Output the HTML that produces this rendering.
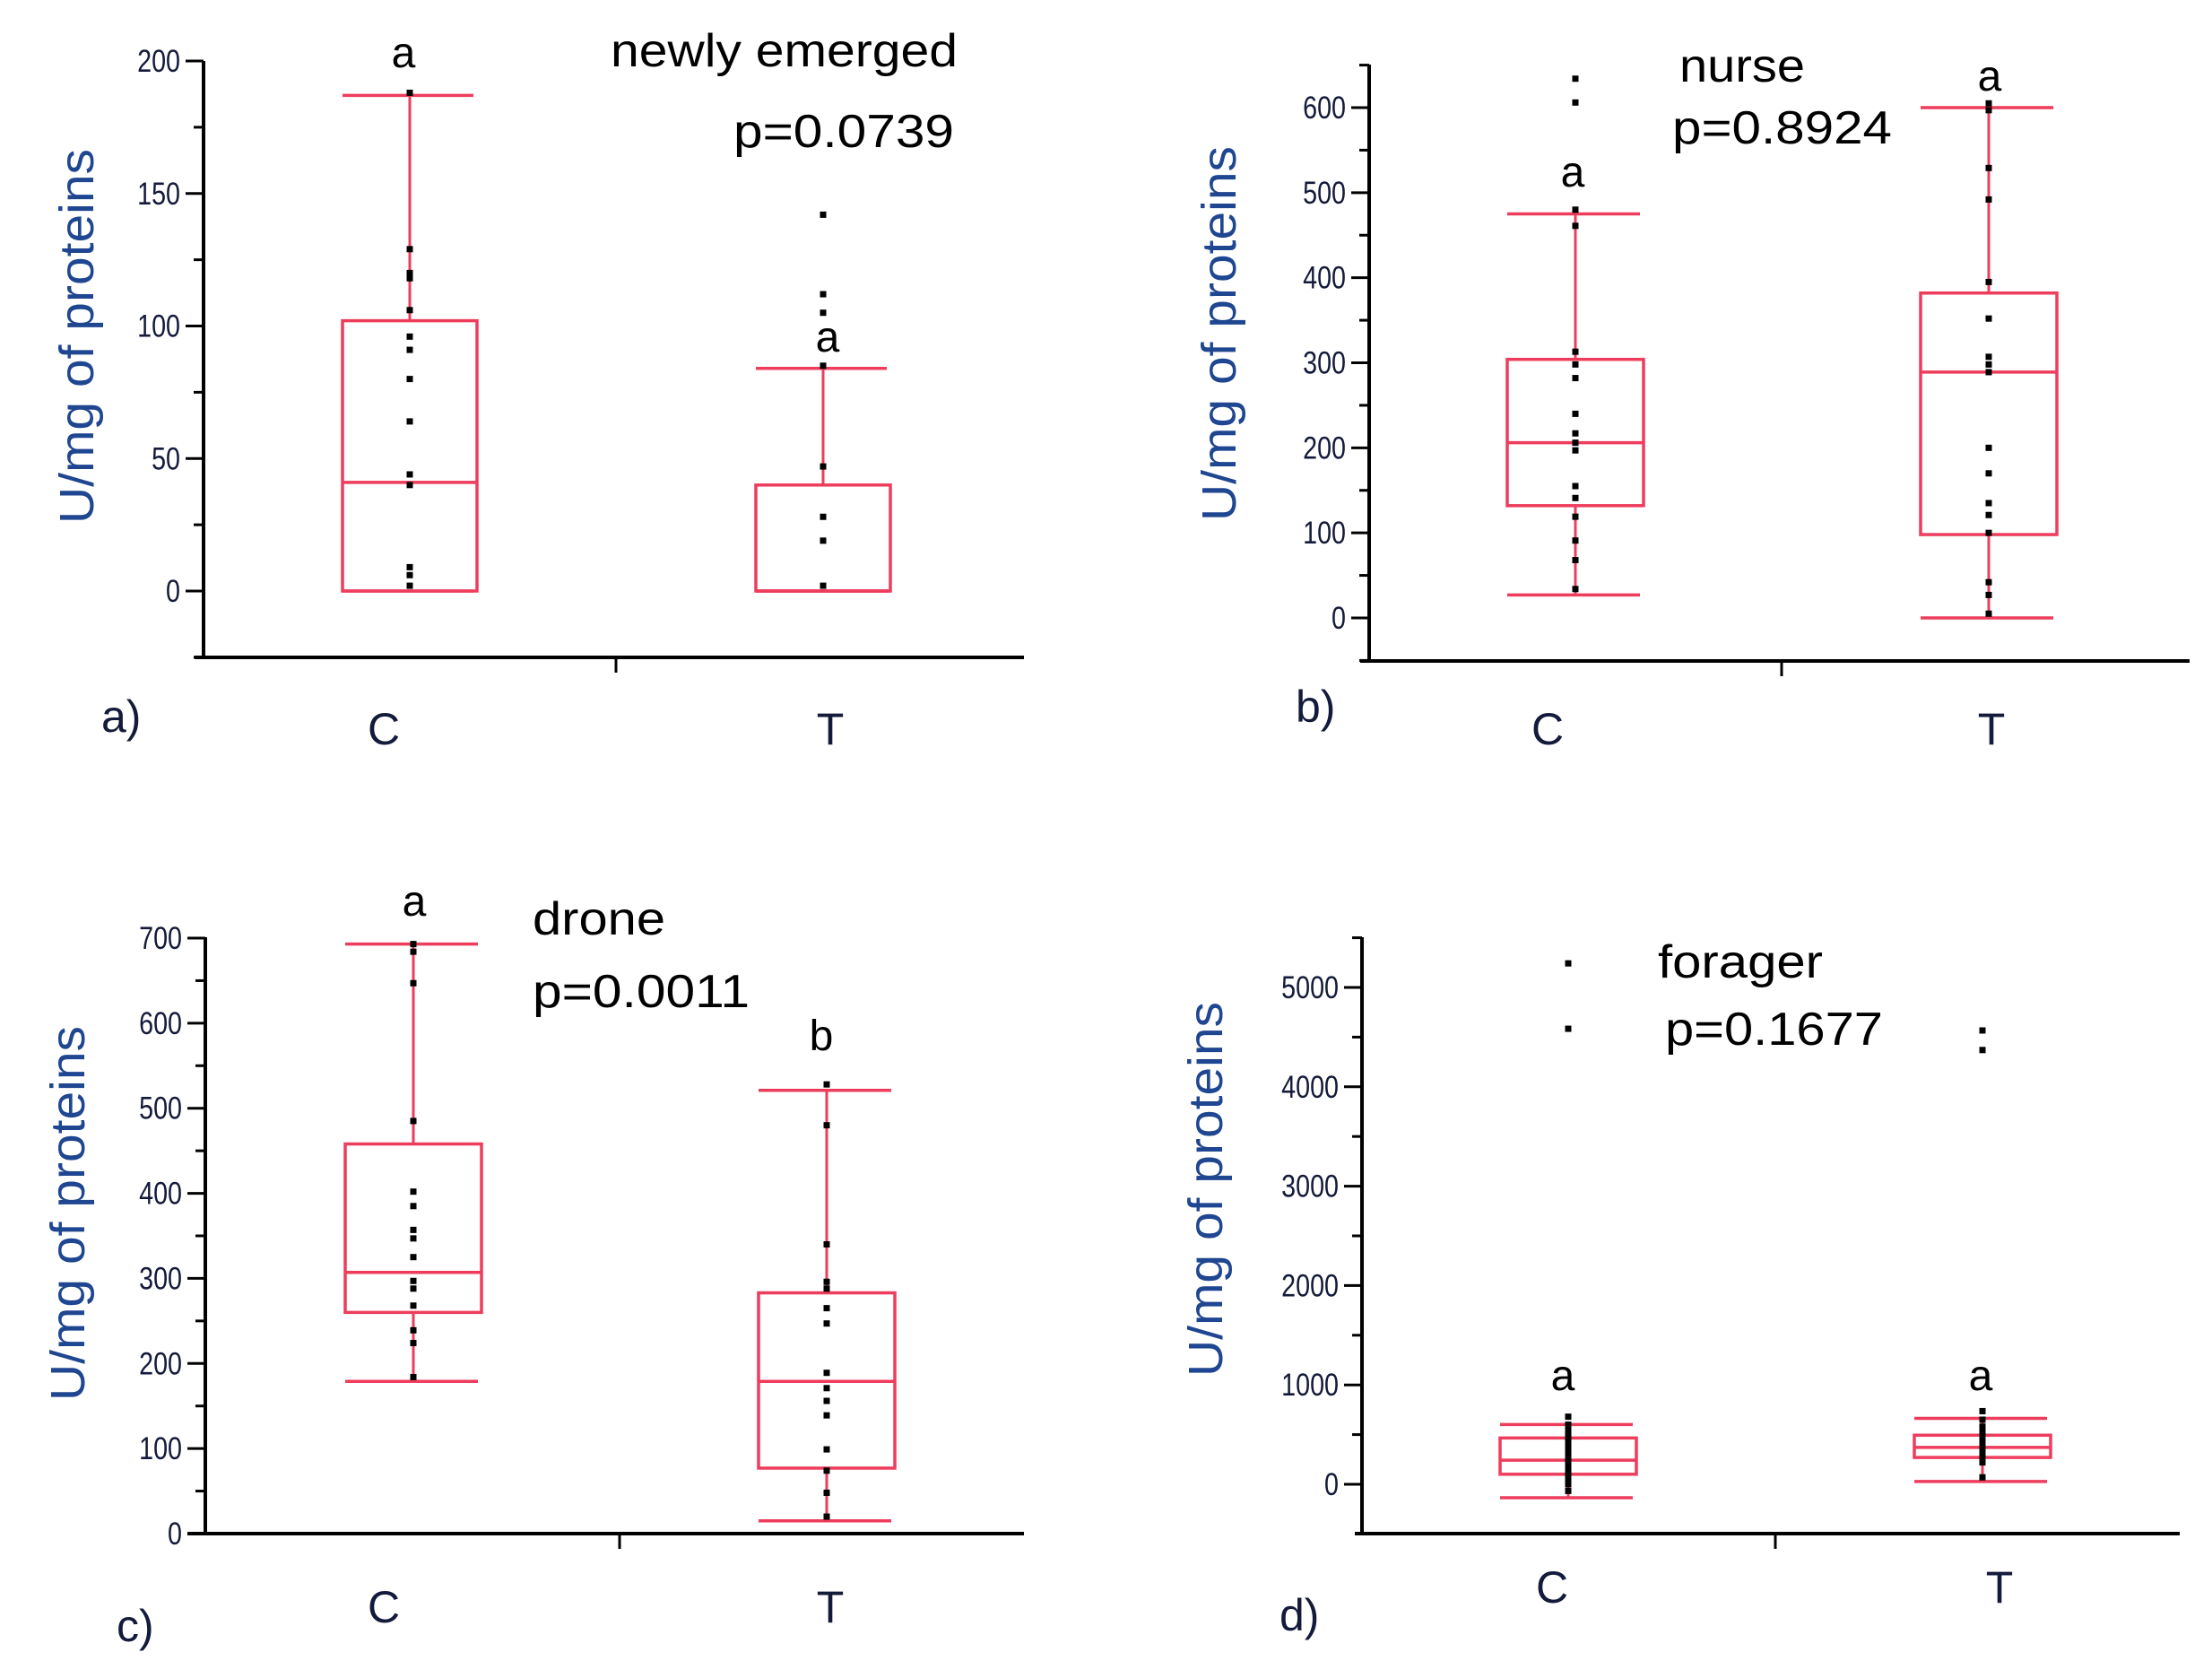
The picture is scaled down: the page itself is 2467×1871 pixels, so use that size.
<!DOCTYPE html>
<html><head><meta charset="utf-8"><style>
html,body{margin:0;padding:0;background:#fff;}
svg{display:block;font-family:"Liberation Sans",Arial,sans-serif;}
</style></head><body>
<svg id="chart" width="2467" height="1871" viewBox="0 0 2467 1871" xmlns="http://www.w3.org/2000/svg"></svg>
<script>
// ---- data ----
const groupNames = ["C", "T"];
// panel a: newly emerged
const aStats = [[0, 0, 41, 102, 187], [0, 0, 0, 40, 84]]; // lower, q1, median, q3, upper
const aPointsC = [188, 129, 120, 118, 106, 96, 91, 80, 64, 44, 40, 9, 6, 2];
const aPointsT = [142, 112, 105, 85, 47, 28, 19, 2];
const aTicks = [0, 50, 100, 150, 200];
// panel b: nurse
const bStats = [[27, 132, 206, 304, 475], [0, 98, 289, 382, 600]];
const bPointsC = [634, 606, 480, 461, 313, 298, 282, 240, 217, 206, 197, 155, 141, 119, 91, 68, 34];
const bPointsT = [605, 597, 529, 492, 395, 352, 307, 298, 289, 200, 170, 135, 121, 100, 42, 27, 5];
const bTicks = [0, 100, 200, 300, 400, 500, 600];
// panel c: drone
const cStats = [[179, 260, 307, 458, 693], [15, 77, 179, 283, 521]];
const cPointsC = [693, 684, 647, 485, 402, 385, 357, 347, 325, 297, 288, 268, 239, 224, 184];
const cPointsT = [528, 480, 340, 296, 288, 265, 247, 189, 171, 156, 139, 99, 74, 48, 20];
const cTicks = [0, 100, 200, 300, 400, 500, 600, 700];
// panel d: forager
const dStats = [[-135, 101, 242, 466, 601], [28, 270, 371, 494, 663]];
const dPointsC = [5242, 4584, 680, 600, 540, 480, 420, 360, 300, 240, 180, 120, 60, 0, -67];
const dPointsT = [4567, 4370, 736, 650, 580, 520, 460, 400, 340, 280, 220, 70];
const dTicks = [0, 1000, 2000, 3000, 4000, 5000];

const NS = "http://www.w3.org/2000/svg";
const svg = document.getElementById("chart");
const RED = "#ee3d5c", TXT = "#141a3a", YL = "#1f4690";
function mk(tag, attrs, parent) {
  const e = document.createElementNS(NS, tag);
  for (const k in attrs) e.setAttribute(k, attrs[k]);
  (parent || svg).appendChild(e);
  return e;
}
function txt(s, x, y, size, anchor, fill, parent, extra) {
  const t = mk("text", Object.assign({x: x, y: y, "font-size": size, "text-anchor": anchor || "start", fill: fill || TXT}, extra || {}), parent);
  t.textContent = s;
  return t;
}

function panel(cfg) {
  const g = mk("g", {});
  
  
  const y = v => cfg.y0 + (v - cfg.v0) * (cfg.y1 - cfg.y0) / (cfg.v1 - cfg.v0);
  const ax = mk("g", {}, g);
  
  
  mk("line", {x1: cfg.ax, y1: cfg.axTop, x2: cfg.ax, y2: cfg.axBot, stroke: "#000", "stroke-width": 4}, ax);
  const xa = mk("g", {}, g);
  
  
  mk("line", {x1: cfg.xL, y1: cfg.axBot, x2: cfg.xR, y2: cfg.axBot, stroke: "#000", "stroke-width": 4}, xa);
  mk("line", {x1: cfg.midX, y1: cfg.axBot, x2: cfg.midX, y2: cfg.axBot + 17, stroke: "#000", "stroke-width": 3}, xa);
  const step = cfg.ticks[1] - cfg.ticks[0];
  cfg.ticks.forEach(v => {
    mk("line", {x1: cfg.ax - 20, y1: y(v), x2: cfg.ax, y2: y(v), stroke: "#000", "stroke-width": 3}, ax);
    const lx = cfg.ax - 26;
    const t = txt(String(v), 0, 0, 35, "end", TXT, ax, {transform: "translate(" + lx + "," + (y(v) + 12) + ") scale(0.82,1)"});
    
    
    const m = v + step / 2;
    if (y(m) > cfg.axTop && y(m) < cfg.axBot) mk("line", {x1: cfg.ax - 11, y1: y(m), x2: cfg.ax, y2: y(m), stroke: "#000", "stroke-width": 3}, ax);
    const mb = v - step / 2;
    if (v === cfg.ticks[0] && y(mb) > cfg.axTop && y(mb) < cfg.axBot) mk("line", {x1: cfg.ax - 11, y1: y(mb), x2: cfg.ax, y2: y(mb), stroke: "#000", "stroke-width": 3}, ax);
  });
  [0, 1].forEach(i => {
    const s = cfg.stats[i], cx = cfg.cx[i], hw = cfg.hw;
    const bg = mk("g", {}, g);
    
    
    mk("line", {x1: cx, y1: y(s[0]), x2: cx, y2: y(s[4]), stroke: RED, "stroke-width": 3}, bg);
    mk("rect", {x: cx - hw, y: y(s[3]), width: 2 * hw, height: y(s[1]) - y(s[3]), fill: "#fff", stroke: RED, "stroke-width": 3.5}, bg);
    mk("line", {x1: cx - hw, y1: y(s[2]), x2: cx + hw, y2: y(s[2]), stroke: RED, "stroke-width": 3.5}, bg);
    mk("line", {x1: cx - hw, y1: y(s[4]), x2: cx + hw - 4, y2: y(s[4]), stroke: RED, "stroke-width": 3.5}, bg);
    mk("line", {x1: cx - hw, y1: y(s[0]), x2: cx + hw - 4, y2: y(s[0]), stroke: RED, "stroke-width": 3.5}, bg);
    cfg.points[i].forEach(v => {
      const p = mk("rect", {x: cx - 3.5, y: y(v) - 3.5, width: 7, height: 7, fill: "#000"}, bg);
      
      
    });
    const cl = txt(groupNames[i], cfg.catX[i], cfg.catY, 50, "middle", TXT, g);
    
    
    const lt = txt(cfg.letters[i], cfg.letterPos[i][0], cfg.letterPos[i][1], 48, "middle", "#000", g);
    
    
  });
  const yl = txt("U/mg of proteins", 0, 0, 54, "middle", YL, g, {transform: "translate(" + (cfg.ylX + 19) + "," + cfg.ylY + ") rotate(-90)", textLength: 418, lengthAdjust: "spacingAndGlyphs"});
  
  
  const tt = txt(cfg.title, cfg.titlePos[0], cfg.titlePos[1], 52, "start", "#000", g, {textLength: cfg.titlePos[2], lengthAdjust: "spacingAndGlyphs"});
  
  
  const pv = txt(cfg.p, cfg.pPos[0], cfg.pPos[1], 52, "start", "#000", g, {textLength: cfg.pPos[2], lengthAdjust: "spacingAndGlyphs"});
  
  
  const pl = txt(cfg.label, cfg.labelPos[0], cfg.labelPos[1], 50, "start", TXT, g);
  
  
}

panel({name: "panel-a-newly-emerged", v0: 0, v1: 200, y0: 659, y1: 68, ax: 227, axTop: 68, axBot: 733, xL: 217, xR: 1142, midX: 687,
  ticks: aTicks, stats: aStats, points: [aPointsC, aPointsT], cx: [457, 918], hw: 75,
  catX: [428, 926], catY: 830, letters: ["a", "a"], letterPos: [[450, 75], [923, 392]],
  ylX: 85, ylY: 375, title: "newly emerged", titlePos: [681, 74, 387], p: "p=0.0739", pPos: [818, 164, 246], label: "a)", labelPos: [113, 816]});
panel({name: "panel-b-nurse", v0: 0, v1: 600, y0: 689, y1: 120, ax: 1527, axTop: 72, axBot: 737, xL: 1517, xR: 2442, midX: 1987,
  ticks: bTicks, stats: bStats, points: [bPointsC, bPointsT], cx: [1757, 2218], hw: 76,
  catX: [1726, 2221], catY: 830, letters: ["a", "a"], letterPos: [[1754, 208], [2219, 101]],
  ylX: 1359, ylY: 372, title: "nurse", titlePos: [1873, 91, 140], p: "p=0.8924", pPos: [1865, 160, 245], label: "b)", labelPos: [1445, 805]});
panel({name: "panel-c-drone", v0: 0, v1: 700, y0: 1710, y1: 1046, ax: 229, axTop: 1045, axBot: 1710, xL: 209, xR: 1142, midX: 691,
  ticks: cTicks, stats: cStats, points: [cPointsC, cPointsT], cx: [461, 922], hw: 76,
  catX: [428, 926], catY: 1809, letters: ["a", "b"], letterPos: [[462, 1021], [916, 1171]],
  ylX: 75, ylY: 1353, title: "drone", titlePos: [594, 1042, 148], p: "p=0.0011", pPos: [594, 1123, 242], label: "c)", labelPos: [130, 1830]});
panel({name: "panel-d-forager", v0: 0, v1: 5000, y0: 1655, y1: 1101, ax: 1519, axTop: 1045, axBot: 1710, xL: 1511, xR: 2431, midX: 1980,
  ticks: dTicks, stats: dStats, points: [dPointsC, dPointsT], cx: [1749, 2211], hw: 76,
  catX: [1731, 2230], catY: 1787, letters: ["a", "a"], letterPos: [[1743, 1550], [2209, 1550]],
  ylX: 1344, ylY: 1326, title: "forager", titlePos: [1849, 1090, 184], p: "p=0.1677", pPos: [1857, 1165, 243], label: "d)", labelPos: [1427, 1818]});
</script>
</body></html>
